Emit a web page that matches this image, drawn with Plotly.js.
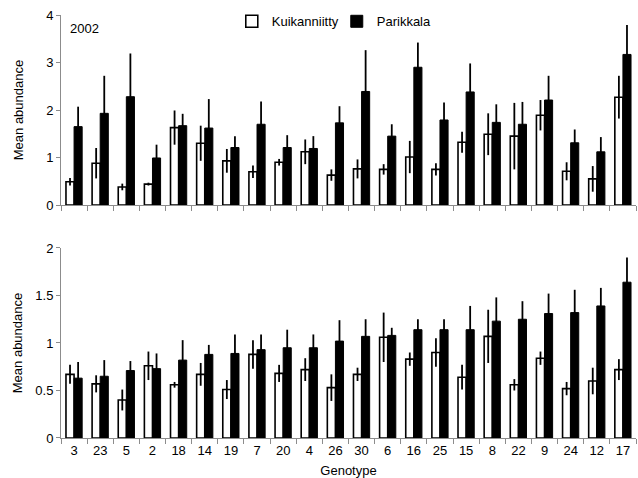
<!DOCTYPE html>
<html>
<head>
<meta charset="utf-8">
<script src="https://cdn.plot.ly/plotly-3.0.1.min.js"></script>
<style>html,body{margin:0;padding:0;background:#fff;}#chart{width:638px;height:478px;}</style>
</head>
<body>
<div id="chart"></div>
<script>
// Genotype order (shared x categories)
var genotypes = ["3","23","5","2","18","14","19","7","20","4","26","30","6","16","25","15","8","22","9","24","12","17"];

// Upper panel (2002)
var kuikUpper    = [0.49,0.88,0.38,0.44,1.63,1.30,0.93,0.70,0.90,1.12,0.63,0.76,0.75,1.01,0.75,1.32,1.49,1.45,1.89,0.71,0.55,2.27];
var kuikUpperErr = [0.08,0.32,0.07,0.03,0.36,0.37,0.25,0.13,0.07,0.26,0.12,0.20,0.11,0.34,0.13,0.22,0.44,0.70,0.32,0.19,0.27,0.45];
var parkUpper    = [1.65,1.93,2.28,0.99,1.67,1.62,1.21,1.70,1.21,1.19,1.73,2.39,1.45,2.90,1.79,2.38,1.74,1.70,2.21,1.31,1.12,3.17];
var parkUpperErr = [0.42,0.79,0.91,0.28,0.25,0.61,0.24,0.48,0.26,0.26,0.35,0.87,0.25,0.52,0.37,0.60,0.38,0.47,0.51,0.28,0.31,0.62];

// Lower panel
var kuikLower    = [0.67,0.57,0.40,0.76,0.56,0.67,0.51,0.88,0.68,0.72,0.53,0.67,1.06,0.83,0.90,0.64,1.07,0.56,0.84,0.52,0.60,0.72];
var kuikLowerErr = [0.10,0.09,0.11,0.15,0.03,0.12,0.10,0.15,0.09,0.12,0.14,0.07,0.26,0.07,0.15,0.13,0.28,0.06,0.07,0.07,0.14,0.11];
var parkLower    = [0.63,0.65,0.71,0.73,0.82,0.88,0.89,0.93,0.95,0.95,1.02,1.07,1.08,1.14,1.14,1.14,1.23,1.25,1.31,1.32,1.39,1.64];
var parkLowerErr = [0.17,0.17,0.10,0.16,0.21,0.10,0.20,0.16,0.19,0.14,0.22,0.18,0.08,0.11,0.11,0.25,0.25,0.19,0.21,0.24,0.19,0.26];

var seriesNames = ["Kuikanniitty","Parikkala"];

function errSpec(arr){
  return {type:'data', array:arr, symmetric:true, visible:true, color:'#000', thickness:1.8, width:0};
}
var whiteStyle = {color:'#ffffff', line:{color:'#000000', width:1.6}};
var blackStyle = {color:'#000000', line:{color:'#000000', width:1}};

var traces = [
  {type:'bar', name:seriesNames[0], x:genotypes, y:kuikUpper, error_y:errSpec(kuikUpperErr), marker:whiteStyle, xaxis:'x', yaxis:'y', legendgroup:'k'},
  {type:'bar', name:seriesNames[1], x:genotypes, y:parkUpper, error_y:errSpec(parkUpperErr), marker:blackStyle, xaxis:'x', yaxis:'y', legendgroup:'p'},
  {type:'bar', name:seriesNames[0], x:genotypes, y:kuikLower, error_y:errSpec(kuikLowerErr), marker:whiteStyle, xaxis:'x2', yaxis:'y2', legendgroup:'k', showlegend:false},
  {type:'bar', name:seriesNames[1], x:genotypes, y:parkLower, error_y:errSpec(parkLowerErr), marker:blackStyle, xaxis:'x2', yaxis:'y2', legendgroup:'p', showlegend:false}
];

var font = {family:'"Liberation Sans", Arial, sans-serif', size:13, color:'#000'};
var gray = '#8c8c8c';

var xbase = {type:'category', showline:true, linecolor:gray, linewidth:1, ticks:'outside', tickson:'boundaries', ticklen:5, tickcolor:gray, showgrid:false, zeroline:false, fixedrange:true};
var ybase = {showline:true, linecolor:gray, linewidth:1, ticks:'outside', ticklen:4, tickcolor:gray, showgrid:false, zeroline:false, tickfont:{size:13}};

var layout = {
  width:638, height:478,
  margin:{l:61, r:2, t:15, b:40},
  paper_bgcolor:'#fff', plot_bgcolor:'#fff',
  font:font,
  barmode:'group', bargap:0.38, bargroupgap:0,
  showlegend:true,
  legend:{orientation:'h', x:0.297, xanchor:'left', y:0.985, yanchor:'middle', font:{size:13}, itemwidth:30, entrywidth:60, traceorder:'normal', bgcolor:'rgba(0,0,0,0)'},
  xaxis: Object.assign({}, xbase, {anchor:'y', showticklabels:false, domain:[0,1]}),
  yaxis: Object.assign({}, ybase, {anchor:'x', domain:[0.5508,1], range:[0,4], dtick:1, tick0:0,
          title:{text:'Mean abundance', font:{size:13}, standoff:19}}),
  xaxis2: Object.assign({}, xbase, {anchor:'y2', domain:[0,1], tickfont:{size:13},
          title:{text:'Genotype', font:{size:13}, standoff:10}}),
  yaxis2: Object.assign({}, ybase, {anchor:'x2', domain:[0,0.4492], range:[0,2], dtick:0.5, tick0:0,
          title:{text:'Mean abundance', font:{size:13}, standoff:9}}),
  annotations:[
    {text:'2002', xref:'paper', yref:'paper', x:0.012, y:0.967, xanchor:'left', yanchor:'middle', showarrow:false, font:{size:13}}
  ]
};

Plotly.newPlot('chart', traces, layout, {displayModeBar:false, staticPlot:true});
</script>
</body>
</html>
